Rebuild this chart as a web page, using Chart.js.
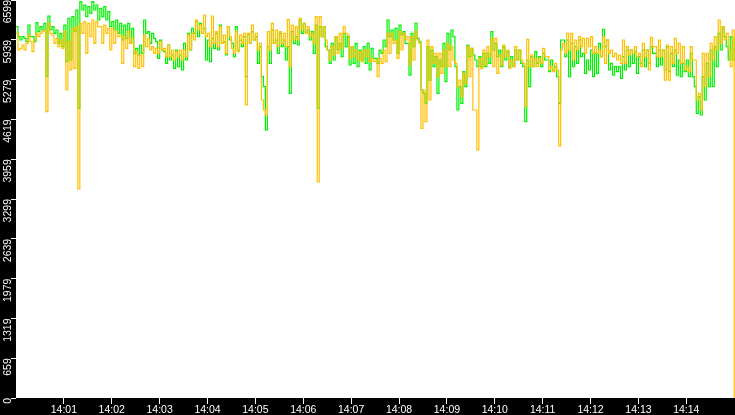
<!DOCTYPE html>
<html>
<head>
<meta charset="utf-8">
<script src="https://cdn.jsdelivr.net/npm/chart.js@4"></script>
<style>
html,body{margin:0;padding:0;background:#000;overflow:hidden;}
#wrap{width:735px;height:415px;}
</style>
</head>
<body>
<div id="wrap"><canvas id="c" width="735" height="415"></canvas></div>
<script>
// seconds after 14:00:00 between successive samples
const stepSeconds = 2.5;
const xTickLabels = ['14:01','14:02','14:03','14:04','14:05','14:06','14:07','14:08','14:09','14:10','14:11','14:12','14:13','14:14'];
const yTicks = [0, 659, 1319, 1979, 2639, 3299, 3959, 4619, 5279, 5939, 6599];

const greenSeries = [
6157,5991, 5936,5991, 5963,5908, 6184,5991, 5991,5908,
6223,6074, 6157,6102, 6212,5328, 6334,6102, 6157,6046,
6102,5881, 6046,5825, 6184,5577, 6295,5604, 6323,6074,
6433,4803, 6571,6433, 6516,6323, 6488,6378, 6571,6433,
6516,6267, 6461,6323, 6488,6267, 6406,6157, 6240,6102,
6267,6046, 6212,5936, 6184,5963, 6212,5881, 6129,5715,
5798,5687, 5853,5715, 6267,6046, 6074,5881, 6046,5963,
5908,5632, 5936,5770, 5742,5549, 5853,5604, 5687,5466,
5770,5494, 5687,5438, 5881,5604, 6046,5770, 6129,6046,
6240,5991, 6212,6046, 6129,5604, 5936,5577, 5963,5798,
6046,5770, 6184,5881, 5908,5687, 6157,5936, 5881,5659,
6157,5770, 5936,5825, 5991,5328, 6019,5881, 6074,5936,
5991,5549, 5825,5328, 5162,4444, 5825,5549, 6102,5881,
5936,5715, 6046,5825, 5936,5604, 5825,5051, 6074,5881,
5991,5853, 6267,6046, 6212,6046, 6102,5936, 6074,5715,
6184,4803, 6157,5991, 6157,5825, 5770,5549, 5881,5604,
5991,5770, 5881,5659, 6046,5825, 5991,5521, 5825,5549,
5881,5494, 5770,5604, 5825,5549, 5881,5438, 5798,5632,
5632,5549, 5770,5715, 5936,5825, 6267,5991, 6102,5936,
6129,5715, 6184,6019, 6074,5881, 5881,5355, 6046,5825,
6212,5963, 5908,5107, 5051,4886, 5825,5272, 5770,5494,
5659,5051, 5604,5494, 5881,5245, 6046,5770, 6102,5991,
5494,4775, 5162,4886, 5411,5162, 5853,5659, 5798,5687,
5604,5494, 5659,5494, 5715,5494, 5715,5549, 6074,5770,
5881,5659, 5770,5494, 5825,5604, 5742,5494, 5659,5494,
5770,5604, 5770,5549, 5494,4582, 5604,5162, 5659,5494,
5742,5549, 5659,5494, 5715,5604, 5604,5411, 5604,5438,
5494,5328, 4886,5936, 5936,5659, 5936,5328, 5881,5494,
5825,5549, 5936,5659, 5715,5383, 5604,5438, 5770,5328,
5715,5383, 5881,5659, 6113,5825, 5936,5438, 5549,5355,
5494,5411, 5494,5300, 5659,5438, 5770,5494, 5770,5549,
5742,5383, 5659,5549, 5770,5494, 5770,5549, 5825,5715,
5715,5494, 5770,5521, 5770,5438, 5825,5411, 5715,5494,
5770,5355, 5604,5328, 5549,5411, 5604,5328, 5715,5328,
5162,4720, 4996,4692, 5328,4941, 5549,5162, 5770,5162,
5825,5494, 6046,5770, 6157,5991, 5825,5604, 5991,5604,
5991
];

const orangeSeries = [
6046,5770, 5798,5853, 5770,5881, 6019,5908, 5742,5936,
6046,5991, 6046,6074, 6102,4748, 6212,6046, 6019,5881,
5963,5825, 5936,5798, 6074,5107, 5908,5438, 6129,5466,
6157,3465, 6212,6046, 6240,5715, 6212,5991, 6267,5881,
6240,6157, 6157,5881, 6184,6046, 6129,5770, 6129,5881,
6074,5991, 6019,5549, 5991,5798, 6074,5881, 5963,5494,
5742,5466, 5687,5494, 6019,5825, 5963,5770, 5825,5715,
5798,5715, 5908,5770, 5798,5659, 5853,5659, 5770,5604,
5742,5659, 5770,5604, 5770,5659, 6019,5770, 6046,5936,
6267,6102, 6184,6046, 6350,5991, 6046,5825, 6334,5881,
6074,5825, 6157,5881, 6019,5715, 6157,5991, 5798,5715,
6074,5742, 6019,5881, 6046,4858, 6046,5881, 6184,5936,
6046,5770, 5881,4941, 4775,4692, 6074,5770, 6212,5881,
6102,5825, 6074,5881, 6046,5825, 6278,5494, 6184,5936,
6157,5936, 6295,6102, 6212,6046, 6157,5991, 6046,5881,
6323,3581, 6323,5991, 6157,5936, 5770,5604, 5825,5687,
5991,5715, 6046,5798, 6157,6046, 6019,5632, 5825,5659,
5770,5604, 5742,5577, 5770,5659, 5770,5577, 5632,5577,
5604,5328, 5632,5549, 5770,5577, 6046,5715, 6046,5881,
5936,5632, 6074,5770, 6046,5936, 5991,5521, 5991,5604,
6074,5936, 5881,4471, 5107,4582, 5936,4941, 5825,5549,
5715,5328, 5715,5383, 5770,5494, 5881,5494, 5825,5604,
5549,5162, 5272,4996, 5383,5217, 5825,5328, 5798,4775,
4775,4112, 5632,5466, 5770,5521, 5825,5659, 5963,5494,
5963,5383, 5687,5521, 5853,5659, 5770,5466, 5604,5494,
5825,5604, 5770,5604, 5549,4830, 5947,5494, 5687,5494,
5632,5494, 5632,5549, 5798,5659, 5659,5438, 5494,5411,
5549,5438, 4180,5770, 5881,5715, 6046,5770, 6046,5604,
5936,5770, 5991,5825, 5963,5715, 5963,5825, 5991,5715,
5825,5715, 5770,5659, 5991,5549, 5936,5715, 5770,5659,
5715,5604, 5687,5549, 5936,5549, 5825,5687, 5770,5715,
5825,5659, 5715,5494, 5881,5659, 5770,5438, 5980,5825,
5825,5659, 5936,5659, 5770,5272, 5853,5272, 5825,5549,
5963,5715, 5881,5549, 5825,5438, 5494,5411, 5825,5604,
5604,4941, 5051,4775, 5715,5162, 5715,5328, 5881,5604,
5991,5770, 6267,5881, 6157,5936, 6046,5770, 5494,6102,
0
];

const toPoints = arr => arr.map((v, i) => ({ x: i * stepSeconds, y: v }));

const bgPlugin = {
  id: 'bg',
  beforeDraw(chart) {
    const { ctx, chartArea: a } = chart;
    ctx.save();
    ctx.fillStyle = '#000';
    ctx.fillRect(0, 0, chart.width, chart.height);
    ctx.fillStyle = '#fff';
    ctx.fillRect(a.left, a.top, a.right - a.left, a.bottom - a.top);
    ctx.restore();
  }
};

const noPad = s => { s.paddingTop = 0; s.paddingBottom = 0; s.paddingLeft = 0; s.paddingRight = 0; };
const tickFont = { family: 'Liberation Sans', size: 10.5 };

new Chart(document.getElementById('c'), {
  type: 'line',
  data: {
    datasets: [
      { label: 'orange', data: toPoints(orangeSeries), borderColor: '#ffc000', borderWidth: 1.2, stepped: true, pointRadius: 0, fill: false },
      { label: 'green', data: toPoints(greenSeries), borderColor: '#00f000', borderWidth: 1.2, stepped: true, pointRadius: 0, fill: false }
    ]
  },
  options: {
    responsive: false,
    devicePixelRatio: 1,
    animation: false,
    events: [],
    layout: { padding: 0 },
    plugins: { legend: { display: false }, tooltip: { enabled: false } },
    scales: {
      x: {
        type: 'linear',
        position: 'bottom',
        min: 0,
        max: 901,
        afterBuildTicks: s => { s.ticks = xTickLabels.map((l, i) => ({ value: (i + 1) * 60 })); },
        afterFit: s => { s.height = 17; noPad(s); },
        grid: { drawOnChartArea: false, color: '#fff', tickLength: 6, lineWidth: 1 },
        border: { display: false },
        ticks: {
          color: '#fff', font: tickFont, padding: 0, maxRotation: 0, autoSkip: false,
          callback: v => xTickLabels[Math.round(v / 60) - 1] || ''
        }
      },
      y: {
        type: 'linear',
        position: 'left',
        min: 0,
        max: 6599,
        afterBuildTicks: s => { s.ticks = yTicks.map(v => ({ value: v })); },
        afterFit: s => { s.width = 16; noPad(s); },
        grid: { drawOnChartArea: false, color: '#fff', tickLength: 5, lineWidth: 1 },
        border: { display: false },
        ticks: {
          color: '#fff', font: tickFont, padding: 3, minRotation: 90, maxRotation: 90, autoSkip: false,
          callback: v => String(v)
        }
      }
    }
  },
  plugins: [bgPlugin]
});
</script>
</body>
</html>
